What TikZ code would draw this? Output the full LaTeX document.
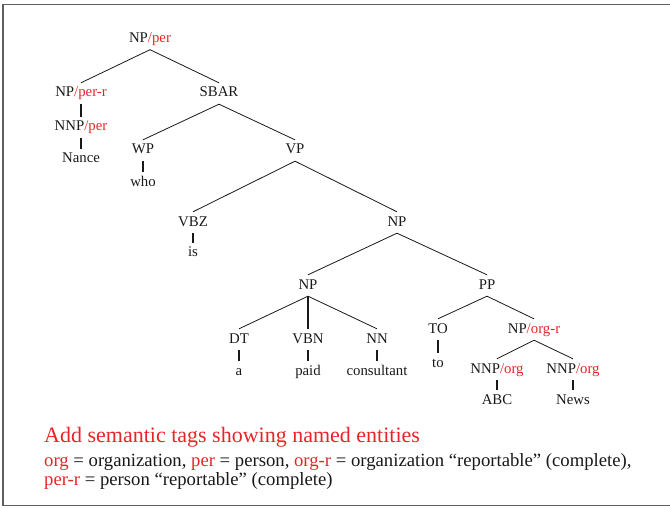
\documentclass[tikz,border=0pt]{standalone}
\usepackage{fontspec}
\setmainfont{Liberation Serif}
\definecolor{tagred}{RGB}{232,36,40}
\definecolor{ink}{RGB}{25,25,25}
\definecolor{framegray}{RGB}{95,95,95}
\newcommand{\tg}[1]{\textcolor{tagred}{#1}}
\begin{document}
\begin{tikzpicture}[x=1pt,y=-1pt,
  cat/.style={anchor=base, inner xsep=1pt, inner ysep=3pt,
    text height=11pt, text depth=4pt, font=\fontsize{14.8}{16}\selectfont, text=ink},
  branch/.style={draw=ink, line width=0.8pt},
  stem/.style={draw=ink, line width=1.7pt},
  caption/.style={anchor=base west, inner sep=0pt, text=ink}]
\useasboundingbox (0,0) rectangle (670,508);
% frame, open on the right
\draw[framegray, line width=1.4pt] (672,4.5) -- (3,4.5) -- (3,505.5) -- (672,505.5);

% tree nodes
\node[cat] (np1)   at (150,42.5) {NP\tg{/per}};
\node[cat] (npr)   at (81,97)    {NP\tg{/per-r}};
\node[cat] (sbar)  at (219,97)   {SBAR};
\node[cat] (nnp1)  at (81,131)   {NNP\tg{/per}};
\node[cat] (nance) at (81,163)   {Nance};
\node[cat] (wp)    at (143,154)  {WP};
\node[cat] (who)   at (143,186)  {who};
\node[cat] (vp)    at (295,154)  {VP};
\node[cat] (vbz)   at (193,226)  {VBZ};
\node[cat] (is)    at (193,257)  {is};
\node[cat] (np2)   at (397,226)  {NP};
\node[cat] (np3)   at (308,289)  {NP};
\node[cat] (pp)    at (487,289)  {PP};
\node[cat] (dt)    at (239,343)  {DT};
\node[cat] (vbn)   at (308,343)  {VBN};
\node[cat] (nn)    at (377,343)  {NN};
\node[cat] (wa)    at (239,375)  {a};
\node[cat] (paid)  at (308,375)  {paid};
\node[cat] (cons)  at (377,375)  {consultant};
\node[cat] (to)    at (438,333)  {TO};
\node[cat] (wto)   at (438,367)  {to};
\node[cat] (npo)   at (534,333)  {NP\tg{/org-r}};
\node[cat] (nnp2)  at (497,373)  {NNP\tg{/org}};
\node[cat] (nnp3)  at (573,373)  {NNP\tg{/org}};
\node[cat] (abc)   at (497,404)  {ABC};
\node[cat] (news)  at (573,404)  {News};

% branches
\draw[branch] (np1.south) -- (npr.north);
\draw[branch] (np1.south) -- (sbar.north);
\draw[branch] (sbar.south) -- (wp.north);
\draw[branch] (sbar.south) -- (vp.north);
\draw[branch] (vp.south) -- (vbz.north);
\draw[branch] (vp.south) -- (np2.north);
\draw[branch] (np2.south) -- (np3.north);
\draw[branch] (np2.south) -- (pp.north);
\draw[branch] (np3.south) -- (dt.north);
\draw[branch] (np3.south) -- (nn.north);
\draw[branch] (pp.south) -- (to.north);
\draw[branch] (pp.south) -- (npo.north);
\draw[branch] (npo.south) -- (nnp2.north);
\draw[branch] (npo.south) -- (nnp3.north);

% unary links
\draw[stem] (npr.south) -- (nnp1.north);
\draw[stem] (nnp1.south) -- (nance.north);
\draw[stem] (wp.south) -- (who.north);
\draw[stem] (vbz.south) -- (is.north);
\draw[stem] (np3.south) -- (vbn.north);
\draw[stem] (dt.south) -- (wa.north);
\draw[stem] (vbn.south) -- (paid.north);
\draw[stem] (nn.south) -- (cons.north);
\draw[stem] (to.south) -- (wto.north);
\draw[stem] (nnp2.south) -- (abc.north);
\draw[stem] (nnp3.south) -- (news.north);

% caption
\node[caption, font=\fontsize{22}{26}\selectfont, text=tagred] (title) at (44,442)
  {Add semantic tags showing named entities};
\node[caption, font=\fontsize{18.7}{22}\selectfont] (legA) at (44,466)
  {\tg{org} = organization, \tg{per} = person, \tg{org-r} = organization “reportable” (complete),};
\node[caption, font=\fontsize{18.7}{22}\selectfont] (legB) at (44,485)
  {\tg{per-r} = person “reportable” (complete)};
\end{tikzpicture}
\end{document}
